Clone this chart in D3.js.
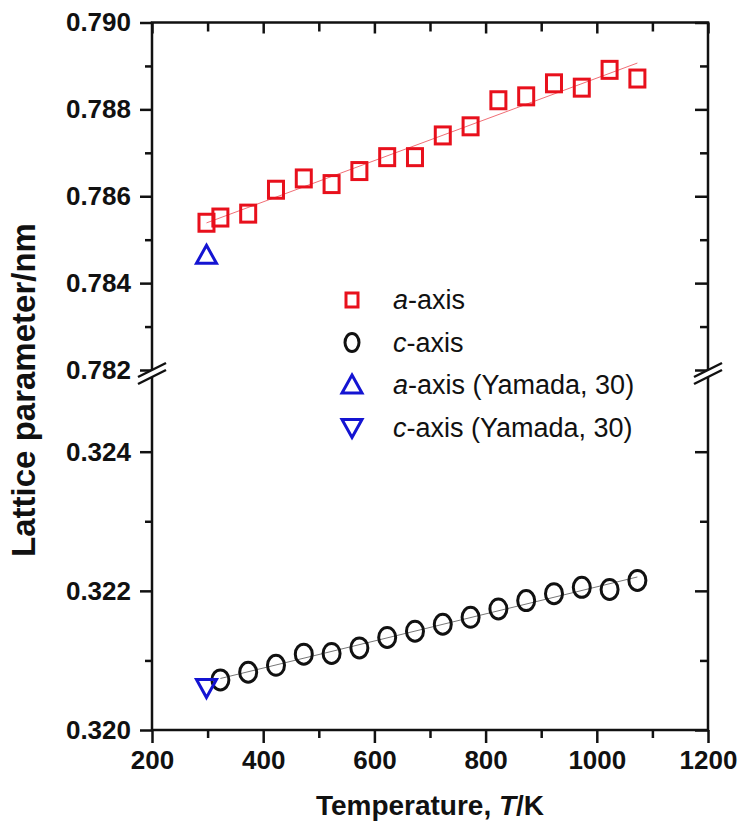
<!DOCTYPE html>
<html>
<head>
<meta charset="utf-8">
<title>Lattice parameter</title>
<style>
  body { margin: 0; background: #fff; }
  text { font-family: "Liberation Sans", Arial, sans-serif; fill: #111; }
</style>
</head>
<body>
<svg id="chart" width="740" height="828"></svg>

<script src="https://cdnjs.cloudflare.com/ajax/libs/d3/7.8.5/d3.min.js"></script>
<script>
// temperatures (K)
const temps = [298, 323, 373, 423, 473, 523, 573, 623, 673, 723, 773, 823, 873, 923, 973, 1023, 1073];
const aAxis = [0.78539, 0.78551, 0.78560, 0.78615, 0.78641, 0.78628, 0.78658, 0.78690, 0.78690,
               0.78740, 0.78761, 0.78821, 0.78830, 0.78860, 0.78850, 0.78891, 0.78871];
const cTemps = [323, 373, 423, 473, 523, 573, 623, 673, 723, 773, 823, 873, 923, 973, 1023, 1073];
const cAxis = [0.32072, 0.32083, 0.32093, 0.32109, 0.32110, 0.32118, 0.32133, 0.32142,
               0.32152, 0.32162, 0.32174, 0.32186, 0.32196, 0.32205, 0.32202, 0.32215];
const yamadaT = [298];
const yamadaA = [0.78464];
const yamadaC = [0.32061];

const xMajor = [200, 400, 600, 800, 1000, 1200];
const xMinor = [300, 500, 700, 900, 1100];
const topMajor = [0.782, 0.784, 0.786, 0.788, 0.790];
const topMinor = [0.783, 0.785, 0.787, 0.789];
const botMajor = [0.320, 0.322, 0.324];
const botMinor = [0.321, 0.323];

const legendItems = ["a|-axis", "c|-axis", "a|-axis (Yamada, 30)", "c|-axis (Yamada, 30)"];

const RED = "#e8101c", BLUE = "#1414d2";

const svg = d3.select("#chart");

const x = d3.scaleLinear().domain([200, 1200]).range([152, 708]);
const yTop = d3.scaleLinear().domain([0.782, 0.790]).range([370, 22.5]);
const yBot = d3.scaleLinear().domain([0.320, 0.324]).range([730, 451.7]);
const pLeft = x.range()[0], pRight = x.range()[1];
const pTop = yTop.range()[1], pBottom = yBot.range()[0];

const fmt = d3.format(".3f");

function styleAxis(g) {
  g.select(".domain").remove();
  g.selectAll(".tick line").attr("stroke", "#111").attr("stroke-width", 2.5);
  g.selectAll(".tick text").attr("font-size", 26).attr("font-weight", "bold").attr("fill", "#111");
}

// left axis (outward ticks, labels)
svg.append("g").attr("transform", `translate(${pLeft},0)`)
  .call(d3.axisLeft(yTop).tickValues(topMajor).tickSize(12).tickPadding(9).tickFormat(fmt)).call(styleAxis);
svg.append("g").attr("transform", `translate(${pLeft},0)`)
  .call(d3.axisLeft(yTop).tickValues(topMinor).tickSize(7).tickFormat("")).call(styleAxis);
svg.append("g").attr("transform", `translate(${pLeft},0)`)
  .call(d3.axisLeft(yBot).tickValues(botMajor).tickSize(12).tickPadding(9).tickFormat(fmt)).call(styleAxis);
svg.append("g").attr("transform", `translate(${pLeft},0)`)
  .call(d3.axisLeft(yBot).tickValues(botMinor).tickSize(7).tickFormat("")).call(styleAxis);

// right axis (inward ticks)
[[yTop, topMajor, 13], [yTop, topMinor, 8], [yBot, botMajor, 13], [yBot, botMinor, 8]].forEach(([s, v, len]) => {
  svg.append("g").attr("transform", `translate(${pRight},0)`)
    .call(d3.axisLeft(s).tickValues(v).tickSize(len).tickFormat("")).call(styleAxis)
    .selectAll(".tick line").attr("x2", -len);
});

// bottom axis (outward)
svg.append("g").attr("transform", `translate(0,${pBottom})`)
  .call(d3.axisBottom(x).tickValues(xMajor).tickSize(13).tickPadding(8).tickFormat(d3.format("d"))).call(styleAxis);
svg.append("g").attr("transform", `translate(0,${pBottom})`)
  .call(d3.axisBottom(x).tickValues(xMinor).tickSize(8).tickFormat("")).call(styleAxis);

// top axis (inward)
svg.append("g").attr("transform", `translate(0,${pTop})`)
  .call(d3.axisBottom(x).tickValues(xMajor).tickSize(11).tickFormat("")).call(styleAxis);
svg.append("g").attr("transform", `translate(0,${pTop})`)
  .call(d3.axisBottom(x).tickValues(xMinor).tickSize(9).tickFormat("")).call(styleAxis);

// frame
svg.append("rect").attr("x", pLeft).attr("y", pTop)
  .attr("width", pRight - pLeft).attr("height", pBottom - pTop)
  .attr("fill", "none").attr("stroke", "#111").attr("stroke-width", 2.5);

// axis breaks
const breakY = 373;
[pLeft, pRight].forEach(bx => {
  const g = svg.append("g").attr("transform", `translate(${bx},${breakY})`);
  g.append("polygon").attr("points", "-14,4 14,-10 14,-3 -14,11").attr("fill", "#fff");
  g.append("line").attr("x1", -14).attr("y1", 4).attr("x2", 14).attr("y2", -10)
    .attr("stroke", "#111").attr("stroke-width", 2.5);
  g.append("line").attr("x1", -14).attr("y1", 11).attr("x2", 14).attr("y2", -3)
    .attr("stroke", "#111").attr("stroke-width", 2.5);
});

// linear fit lines
function fit(xs, ys) {
  const mx = d3.mean(xs), my = d3.mean(ys);
  const b = d3.sum(xs, (d, i) => (d - mx) * (ys[i] - my)) / d3.sum(xs, d => (d - mx) * (d - mx));
  return t => my + b * (t - mx);
}
const fa = fit(temps, aAxis), fc = fit(cTemps, cAxis);
svg.append("line")
  .attr("x1", x(temps[0])).attr("y1", yTop(fa(temps[0])))
  .attr("x2", x(temps[temps.length - 1])).attr("y2", yTop(fa(temps[temps.length - 1])))
  .attr("stroke", RED).attr("stroke-width", 1).attr("opacity", 0.6);
svg.append("line")
  .attr("x1", x(cTemps[0])).attr("y1", yBot(fc(cTemps[0])))
  .attr("x2", x(cTemps[cTemps.length - 1])).attr("y2", yBot(fc(cTemps[cTemps.length - 1])))
  .attr("stroke", "#777").attr("stroke-width", 1);

// markers
const sq = 15;
svg.append("g").selectAll("rect").data(temps).join("rect")
  .attr("x", d => x(d) - sq / 2).attr("y", (d, i) => yTop(aAxis[i]) - sq / 2 - 1)
  .attr("width", sq).attr("height", sq + 2)
  .attr("fill", "none").attr("stroke", RED).attr("stroke-width", 3);

svg.append("g").selectAll("ellipse").data(cTemps).join("ellipse")
  .attr("cx", d => x(d)).attr("cy", (d, i) => yBot(cAxis[i]))
  .attr("rx", 8.5).attr("ry", 10)
  .attr("fill", "none").attr("stroke", "#111").attr("stroke-width", 3);

const triUp = "M0,-10L10,8L-10,8Z", triDown = "M0,10L10,-8L-10,-8Z";
svg.append("g").selectAll("path").data(yamadaT).join("path")
  .attr("transform", (d, i) => `translate(${x(d)},${yTop(yamadaA[i])})`)
  .attr("d", triUp).attr("fill", "none").attr("stroke", BLUE).attr("stroke-width", 3);
svg.append("g").selectAll("path").data(yamadaT).join("path")
  .attr("transform", (d, i) => `translate(${x(d)},${yBot(yamadaC[i])})`)
  .attr("d", triDown).attr("fill", "none").attr("stroke", BLUE).attr("stroke-width", 3);

// legend
const legend = svg.append("g").attr("transform", "translate(352,300)");
legendItems.forEach((lab, i) => {
  const g = legend.append("g").attr("transform", `translate(0,${i * 42.5})`);
  if (i === 0) g.append("rect").attr("x", -6).attr("y", -7).attr("width", 12).attr("height", 14)
    .attr("fill", "none").attr("stroke", RED).attr("stroke-width", 3);
  if (i === 1) g.append("ellipse").attr("rx", 7).attr("ry", 9)
    .attr("fill", "none").attr("stroke", "#111").attr("stroke-width", 3);
  if (i === 2) g.append("path").attr("d", triUp).attr("fill", "none").attr("stroke", BLUE).attr("stroke-width", 3);
  if (i === 3) g.append("path").attr("d", triDown).attr("fill", "none").attr("stroke", BLUE).attr("stroke-width", 3);
  const [it, rest] = lab.split("|");
  const t = g.append("text").attr("x", 41).attr("y", 9).attr("font-size", 27);
  t.append("tspan").attr("font-style", "italic").text(it);
  t.append("tspan").text(rest);
});

// axis titles
const xt = svg.append("text").attr("x", (pLeft + pRight) / 2).attr("y", 815)
  .attr("text-anchor", "middle").attr("font-size", 28).attr("font-weight", "bold");
xt.append("tspan").text("Temperature, ");
xt.append("tspan").attr("font-style", "italic").text("T");
xt.append("tspan").text("/K");

svg.append("text").attr("transform", "translate(35,390) rotate(-90)")
  .attr("text-anchor", "middle").attr("font-size", 33).attr("font-weight", "bold")
  .text("Lattice parameter/nm");
</script>
</body>
</html>
